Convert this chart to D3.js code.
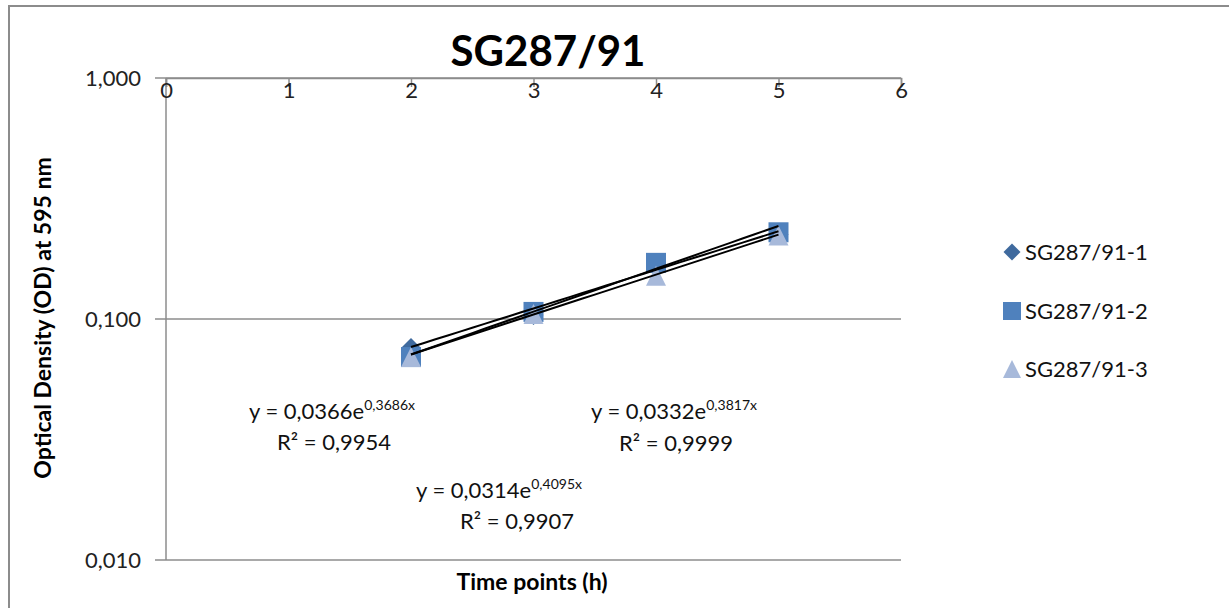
<!DOCTYPE html>
<html>
<head>
<meta charset="utf-8">
<script src="https://cdn.jsdelivr.net/npm/d3@7"></script>
<style>
  html, body { margin: 0; padding: 0; background: #fff; }
  svg { display: block; font-family: "Lato", "Open Sans", sans-serif; }
</style>
</head>
<body>
<svg id="chart" width="1229" height="608"></svg>
<script>
// ---- data ----
const timePoints = [2, 3, 4, 5];
const seriesNames = ["SG287/91-1", "SG287/91-2", "SG287/91-3"];
const series1 = [0.0758, 0.104, 0.165, 0.224];
const series2 = [0.0695, 0.107, 0.171, 0.229];
const series3 = [0.0695, 0.105, 0.151, 0.222];
const trendA = [0.0366, 0.0314, 0.0332];
const trendB = [0.3686, 0.4095, 0.3817];
const eqCoef = ["0,0366", "0,0314", "0,0332"];
const eqExp = ["0,3686x", "0,4095x", "0,3817x"];
const eqR2 = ["0,9954", "0,9907", "0,9999"];
const xTicks = [0, 1, 2, 3, 4, 5, 6];
const yTicks = [1, 0.1, 0.01];
const yTickLabels = ["1,000", "0,100", "0,010"];

const colors = ["#3F6A9E", "#4F81BD", "#A7B9DA"];

// marker shapes, parameterised by half-size r
const shapePath = {
  diamond: r => `M0,${-r}L${r},0L0,${r}L${-r},0Z`,
  square: r => `M${-r},${-r}H${r}V${r}H${-r}Z`,
  triangle: r => `M0,${-r}L${r},${r}H${-r}Z`
};
const shapes = ["diamond", "square", "triangle"];

const svg = d3.select("#chart");

// chart border (clipped at right/bottom like reference)
svg.append("rect").attr("x", 9).attr("y", 6).attr("width", 1300).attr("height", 700)
  .attr("fill", "none").attr("stroke", "#8c8c8c").attr("stroke-width", 2);

const x = d3.scaleLinear().domain([0, 6]).range([166, 901]);
const y = d3.scaleLog().domain([0.01, 1]).range([560, 78]);

// gridlines
svg.append("g").selectAll("line").data(yTicks).join("line")
  .attr("x1", 155).attr("x2", x(6))
  .attr("y1", d => y(d)).attr("y2", d => y(d))
  .attr("stroke", "#8c8c8c").attr("stroke-width", 1.5);

// y axis line
svg.append("line").attr("x1", x(0)).attr("x2", x(0)).attr("y1", y(1)).attr("y2", y(0.01))
  .attr("stroke", "#8c8c8c").attr("stroke-width", 1.5);

// y tick labels
svg.append("g").selectAll("text").data(yTicks).join("text")
  .attr("x", 141).attr("y", d => y(d)).attr("dy", "0.36em")
  .attr("text-anchor", "end").attr("font-size", 22).attr("fill", "#222")
  .text((d, i) => yTickLabels[i]);

// x axis at top (crosses at y=1)
const xAxis = d3.axisBottom(x).tickValues(xTicks).tickSize(9).tickFormat(d3.format("d"));
const gx = svg.append("g").attr("transform", `translate(0,${y(1)})`).call(xAxis);
gx.select(".domain").attr("stroke", "#8c8c8c").attr("stroke-width", 1.5);
gx.selectAll(".tick line").attr("stroke", "#8c8c8c").attr("stroke-width", 1.5);
gx.selectAll(".tick text").attr("font-size", 22).attr("fill", "#222")
  .attr("font-family", "Lato, 'Open Sans', sans-serif").attr("dy", "0.36em").attr("y", 12);

// series markers
const allSeries = [series1, series2, series3];
allSeries.forEach((vals, si) => {
  svg.append("g").selectAll("path").data(vals).join("path")
    .attr("transform", (d, i) => `translate(${x(timePoints[i])},${y(d)})`)
    .attr("d", shapePath[shapes[si]](10)).attr("fill", colors[si]);
});

// trendlines
const tl = d3.line().x(d => x(d[0])).y(d => y(d[1]));
trendA.forEach((a, i) => {
  const pts = d3.range(2, 5.001, 0.1).map(t => [t, a * Math.exp(trendB[i] * t)]);
  svg.append("path").attr("d", tl(pts)).attr("fill", "none")
    .attr("stroke", "#000").attr("stroke-width", 2);
});

// equation labels: [eq x, eq baseline, R² x, R² baseline]
const eqPos = [[332, 419, 334, 450], [499, 498, 517, 529], [674, 419, 676, 451]];
eqPos.forEach((p, i) => {
  const t = svg.append("text").attr("x", p[0]).attr("y", p[1]).attr("text-anchor", "middle")
    .attr("font-size", 22).attr("fill", "#111");
  t.append("tspan").text(`y = ${eqCoef[i]}e`);
  t.append("tspan").attr("font-size", 14).attr("dy", -9).text(eqExp[i]);
  svg.append("text").attr("x", p[2]).attr("y", p[3]).attr("text-anchor", "middle")
    .attr("font-size", 22).attr("fill", "#111").text(`R² = ${eqR2[i]}`);
});

// title
svg.append("text").attr("x", 548).attr("y", 66).attr("text-anchor", "middle")
  .attr("font-size", 42).attr("font-weight", "bold").attr("fill", "#000").text("SG287/91");

// axis titles
svg.append("text").attr("x", 532).attr("y", 590).attr("text-anchor", "middle")
  .attr("font-size", 23).attr("font-weight", "bold").attr("fill", "#000").text("Time points (h)");
svg.append("text").attr("transform", "translate(51,318) rotate(-90)").attr("text-anchor", "middle")
  .attr("font-size", 23).attr("font-weight", "bold").attr("fill", "#000").text("Optical Density (OD) at 595 nm");

// legend
const legY = [252, 311, 369];
seriesNames.forEach((n, i) => {
  svg.append("path").attr("transform", `translate(1012,${legY[i]})`)
    .attr("d", shapePath[shapes[i]](i === 0 ? 8.5 : 9)).attr("fill", colors[i]);
  svg.append("text").attr("x", 1025).attr("y", legY[i]).attr("dy", "0.36em")
    .attr("font-size", 22).attr("fill", "#111").text(n);
});
</script>
</body>
</html>
